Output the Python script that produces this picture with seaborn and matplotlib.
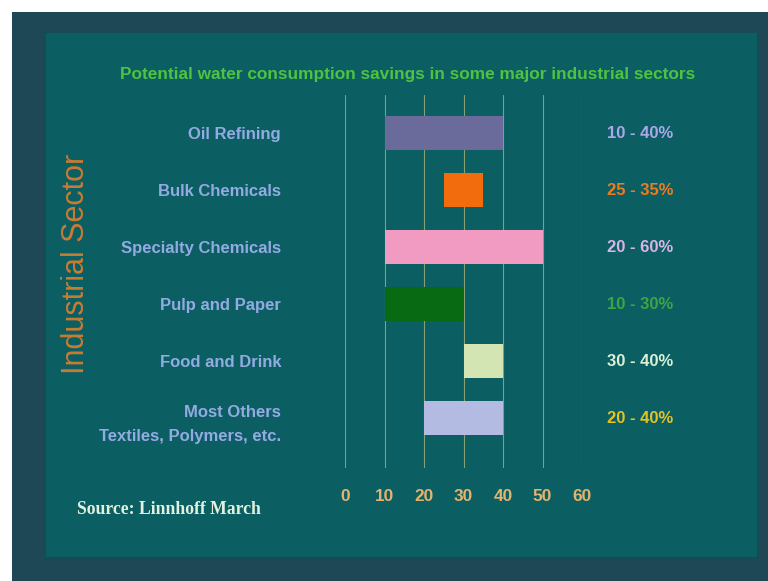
import matplotlib
matplotlib.use("Agg")
import matplotlib.pyplot as plt
from matplotlib import font_manager
from matplotlib.patches import Rectangle
import seaborn as sns
import pandas as pd

# ---- data ----
sectors = ["Oil Refining", "Bulk Chemicals", "Specialty Chemicals", "Pulp and Paper",
           "Food and Drink", "Most Others\nTextiles, Polymers, etc."]
low = [10, 25, 10, 10, 30, 20]
high = [40, 35, 50, 30, 40, 40]
range_labels = ["10 - 40%", "25 - 35%", "20 - 60%", "10 - 30%", "30 - 40%", "20 - 40%"]
bar_colors = ["#6b6b9b", "#f26c0e", "#f19bc2", "#086a12", "#d2e5b3", "#b3bbe3"]
label_colors = ["#aaa8ea", "#ea7d22", "#dab4e4", "#3ca544", "#d9f1d6", "#e3c324"]
xticks = [0, 10, 20, 30, 40, 50, 60]

sns.set_theme(style="white")

names = {f.name for f in font_manager.fontManager.ttflist}
narrow = "Liberation Sans Narrow" if "Liberation Sans Narrow" in names else "Liberation Sans"
nscale = 1.0 if narrow == "Liberation Sans Narrow" else 0.92
plt.rcParams["font.family"] = [narrow, "DejaVu Sans"]

W, H = 768, 581
fig = plt.figure(figsize=(W / 100, H / 100), dpi=100)
fig.patch.set_facecolor("#1f4857")

def fx(px):
    return px / W

def fy(py):
    return 1 - py / H

def bg_rect(x0, y0, x1, y1, color):
    fig.patches.append(Rectangle((fx(x0), fy(y1)), (x1 - x0) / W, (y1 - y0) / H,
                                 transform=fig.transFigure, facecolor=color,
                                 edgecolor="none", zorder=-10))

# white strips top and left
bg_rect(0, 0, W, 12, "white")
bg_rect(0, 0, 12, H, "white")
# inner panel shadow + panel
bg_rect(44, 31, 759, 560, "#174a52")
bg_rect(46, 33, 757, 557, "#0b5e62")

# plot axes: x 0 -> px 345, 60 -> px 582 ; y from px 95 to 468
ax = fig.add_axes([fx(345), fy(468), (582 - 345) / W, (468 - 95) / H])
ax.set_facecolor("none")
ax.set_zorder(5)

df = pd.DataFrame({"sector": sectors, "span": [h - l for l, h in zip(low, high)]})
sns.barplot(data=df, x="span", y="sector", hue="sector", palette=bar_colors,
            order=sectors, hue_order=sectors, legend=False, width=0.58,
            saturation=1, ax=ax, zorder=3, edgecolor="none", linewidth=0)
for p in ax.patches:
    idx = int(round(p.get_y() + p.get_height() / 2))
    p.set_x(low[idx])

ax.set_xlim(0, 60)
ax.set_ylim(5.877, -0.667)
ax.set_xticks(xticks)
ax.set_xticklabels([str(t) for t in xticks])
ax.set_axisbelow(True)
ax.grid(axis="x", color="#86a070", linewidth=0.8)
ax.grid(axis="y", visible=False)
for s in ax.spines.values():
    s.set_visible(False)
ax.tick_params(axis="x", length=0, pad=15, labelcolor="#e2b46f")
ax.tick_params(axis="y", length=0, pad=46, labelcolor="#93abe2")
for t in ax.get_xticklabels():
    t.set_fontsize(13.5 * nscale)
    t.set_fontweight("bold")
for t in ax.get_yticklabels():
    t.set_fontsize(13 * nscale)
    t.set_fontweight("bold")
    t.set_linespacing(1.75)
ax.set_xlabel("")
ax.set_ylabel("")

for i, (txt, c) in enumerate(zip(range_labels, label_colors)):
    ax.text(66.3, i, txt, color=c, fontsize=13 * nscale, fontweight="bold",
            ha="left", va="center", clip_on=False)

fig.text(fx(408), fy(74), "Potential water consumption savings in some major industrial sectors",
         color="#4fc243", fontsize=13.5 * nscale, fontweight="bold", ha="center", va="center")
fig.text(fx(76), fy(264), "Industrial Sector", color="#c97c32", fontsize=22,
         family=["Liberation Sans", "DejaVu Sans"], rotation=90, ha="center", va="center")
fig.text(fx(77), fy(510), "Source: Linnhoff March", color="#e2f0de", fontsize=12.7,
         family=["Liberation Serif", "DejaVu Serif"], fontweight="bold",
         ha="left", va="center")

fig.savefig("out.png", dpi=100, facecolor=fig.get_facecolor())
